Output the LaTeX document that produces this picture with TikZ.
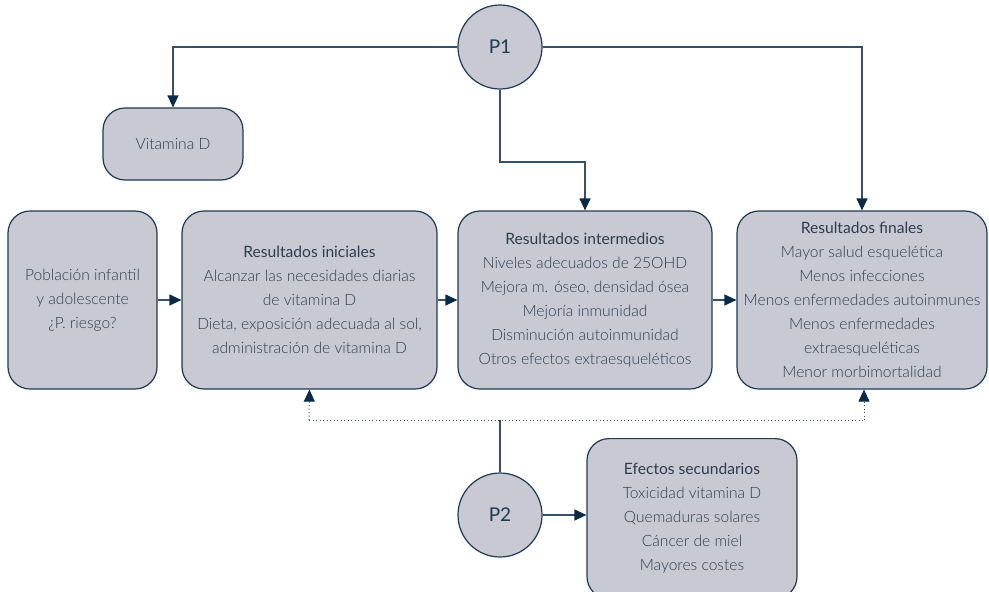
\documentclass[tikz,border=0pt]{standalone}
\usepackage{fontspec}
\setmainfont{Lato Light}[BoldFont=Lato]
\usetikzlibrary{arrows.meta}
\definecolor{boxfill}{HTML}{C8C9D2}
\definecolor{boxdraw}{HTML}{1E3A56}
\definecolor{txt}{HTML}{2C3D50}
\definecolor{lin}{HTML}{34506A}
\definecolor{tip}{HTML}{0B2A48}
\tikzset{
  box/.style={draw=boxdraw, fill=boxfill, line width=1.2pt, rounded corners=22pt, align=center, text=txt, inner sep=0pt},
  circ/.style={draw=boxdraw, fill=boxfill, line width=1.2pt, circle, minimum size=84pt, text=boxdraw, inner sep=0pt},
  conn/.style={draw=lin, line width=1.2pt, -{Triangle[length=12pt,width=11pt,fill=tip,color=tip]}},
  plain/.style={draw=lin, line width=1.2pt},
  dots/.style={draw=lin, line width=1pt, dash pattern=on 1pt off 2.5pt},
  dotarrow/.style={dots, -{Triangle[length=12pt,width=11pt,fill=tip,color=tip]}},
}
\begin{document}
\begin{tikzpicture}[x=1pt,y=-1pt, font=\fontsize{15.6}{24}\selectfont]
\useasboundingbox (0,0) rectangle (989,592);
% boxes
\node[box, minimum width=149pt, minimum height=178pt] (pob) at (82.5,300) {Población infantil\\y adolescente\\¿P. riesgo?};
\node[box, minimum width=255pt, minimum height=178pt] (ini) at (309.5,300) {\textbf{Resultados iniciales}\\Alcanzar las necesidades diarias\\de vitamina D\\Dieta, exposición adecuada al sol,\\administración de vitamina D};
\node[box, minimum width=254pt, minimum height=178pt] (int) at (585,300) {\textbf{Resultados intermedios}\\Niveles adecuados de 25OHD\\Mejora m. óseo, densidad ósea\\Mejoría inmunidad\\Disminución autoinmunidad\\Otros efectos extraesqueléticos};
\node[box, minimum width=250pt, minimum height=178pt] (fin) at (862,300) {\textbf{Resultados finales}\\Mayor salud esquelética\\Menos infecciones\\Menos enfermedades autoinmunes\\Menos enfermedades\\extraesqueléticas\\Menor morbimortalidad};
\node[box, minimum width=140pt, minimum height=72pt] (vit) at (173,144) {Vitamina D};
\node[box, minimum width=210pt, minimum height=160pt, anchor=north] (efe) at (692,438) {\textbf{Efectos secundarios}\\Toxicidad vitamina D\\Quemaduras solares\\Cáncer de miel\\Mayores costes};
% circles
\node[circ] (p1) at (500,47) {\fontsize{19}{22}\selectfont\textbf{P1}};
\node[circ] (p2) at (500,515) {\fontsize{19}{22}\selectfont\textbf{P2}};
% connectors
\draw[conn] (p1.west) -| (vit.north);
\draw[conn] (p1.east) -| (fin.north);
\coordinate (bend) at (500,162);
\draw[conn] (p1.south) -- (bend) -| (int.north);
\draw[conn] (pob) -- (ini);
\draw[conn] (ini) -- (int);
\draw[conn] (int) -- (fin);
\coordinate (dl) at (309,420);
\coordinate (dm) at (500,420);
\coordinate (dr) at (864,420);
\draw[dots] (dl) -- (dr);
\draw[dotarrow] (dl) -- (ini.south);
\draw[dotarrow] (dr) -- (fin.south -| dr);
\draw[plain] (p2.north) -- (dm);
\draw[conn] (p2.east) -- (efe.west |- p2.east);
\end{tikzpicture}
\end{document}
